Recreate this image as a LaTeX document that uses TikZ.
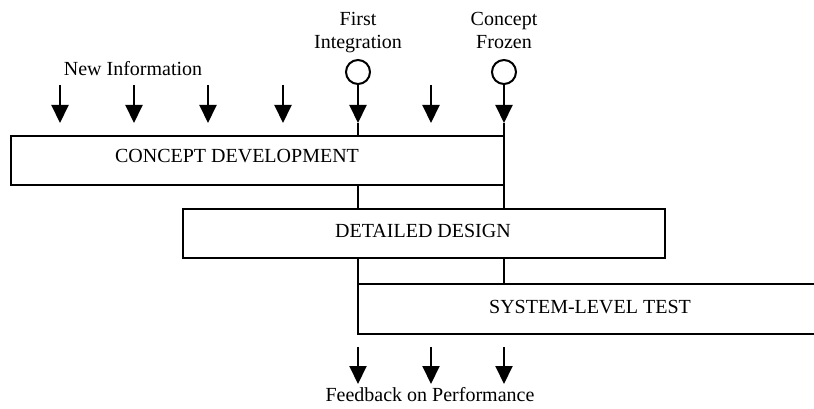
\documentclass[tikz,border=0pt]{standalone}
\usepackage{fontspec}
\setmainfont{Liberation Serif}
\usetikzlibrary{arrows.meta}
\begin{document}
\begin{tikzpicture}[x=1pt,y=-1pt,
  lw/.style={line width=2pt},
  box/.style={draw,lw,rectangle,inner sep=0pt,outer sep=0pt,minimum height=49pt},
  txt/.style={font=\fontsize{20}{23}\selectfont,inner sep=0pt},
  milestone/.style={draw,lw,circle,inner sep=0pt,outer sep=0pt,minimum size=24pt},
  arr/.style={lw,-{Triangle[length=18pt,width=17pt]}}]
\clip (0,0) rectangle (814,409);
\fill[white] (0,0) rectangle (814,409);
% columns
\coordinate (fi) at (358,0);
\coordinate (cf) at (504,0);
% boxes
\node[box,minimum width=493pt] (cd) at (257.5,160.5) {};
\node[box,minimum width=482pt] (dd) at (424,233.5) {};
\node[box,minimum width=482pt,minimum height=50pt] (slt) at (599,309) {};
% box texts
\node[txt,anchor=base] (cdt) at (237,163) {CONCEPT DEVELOPMENT};
\node[txt,anchor=base] (ddt) at (423,237) {DETAILED DESIGN};
\node[txt,anchor=base] (sltt) at (590,313) {SYSTEM-LEVEL TEST};
% milestones
\node[milestone] (m1) at (358,72) {};
\node[milestone] (m2) at (504,72) {};
\node[txt,align=center,anchor=north] (m1t) at (358,12.3) {First\\Integration};
\node[txt,align=center,anchor=north] (m2t) at (504,12.3) {Concept\\Frozen};
% new information
\node[txt,anchor=base] (ni) at (133,75.5) {New Information};
\foreach \x [count=\i] in {60,134,208,283,431} {
  \coordinate (a\i s) at (\x,85);
  \coordinate (a\i e) at (\x,123);
  \draw[arr] (a\i s) -- (a\i e);
}
\coordinate (m1e) at (358,123);
\coordinate (m2e) at (504,123);
\draw[arr] (m1.south) -- (m1e);
\draw[lw] (m1e) -- (cd.north -| fi);
\draw[arr] (m2.south) -- (m2e);
\draw[lw] (m2e) -- (cd.north -| cf);
% links between phases
\draw[lw] (cd.south -| fi) -- (dd.north -| fi);
\draw[lw] (cd.south -| cf) -- (dd.north -| cf);
\draw[lw] (dd.south -| slt.west) -- (slt.north west);
\draw[lw] (dd.south -| cf) -- (slt.north -| cf);
% feedback
\foreach \x [count=\i] in {358,431,504} {
  \coordinate (f\i s) at (\x,347);
  \coordinate (f\i e) at (\x,384);
  \draw[arr] (f\i s) -- (f\i e);
}
\node[txt,anchor=base] (fb) at (430,401) {Feedback on Performance};
\end{tikzpicture}
\end{document}
